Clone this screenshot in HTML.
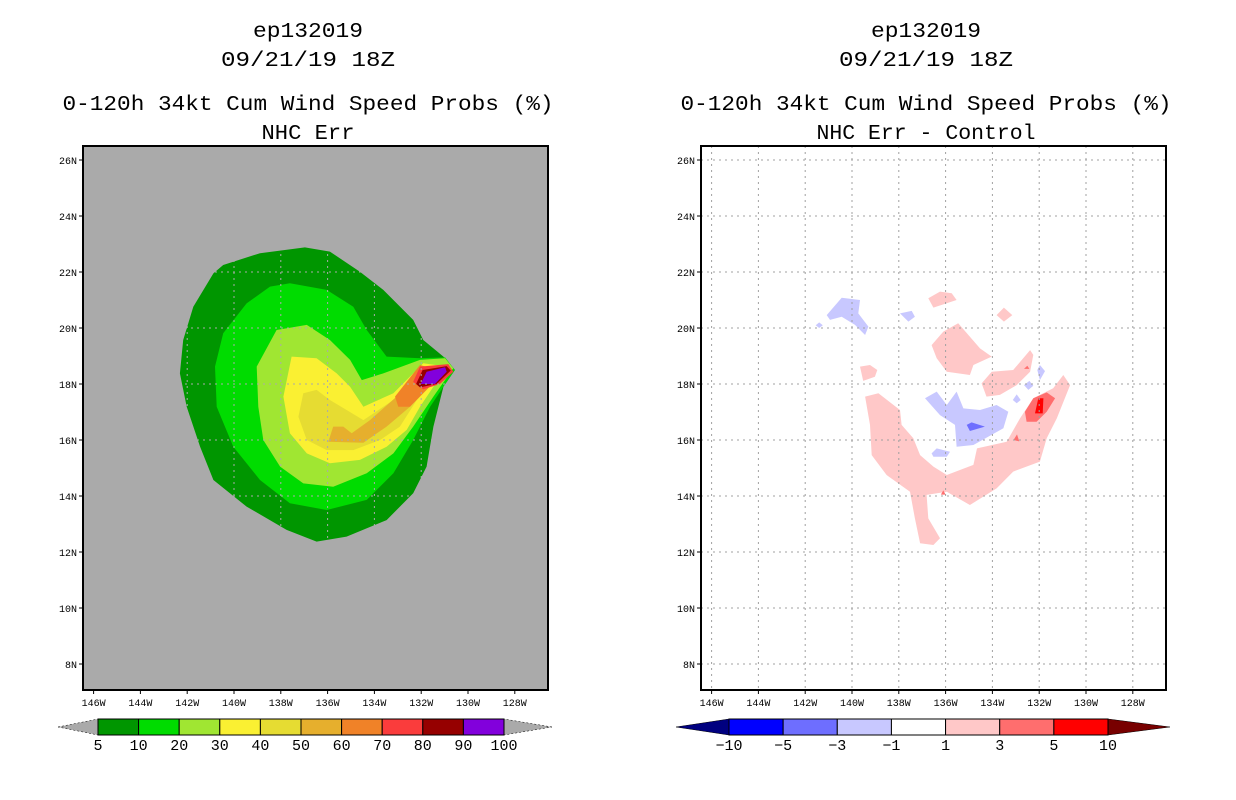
<!DOCTYPE html>
<html><head><meta charset="utf-8"><style>
html,body{margin:0;padding:0;background:#fff;}
svg{display:block;font-family:"Liberation Mono",monospace;}
</style></head><body>
<svg id="s" width="1236" height="800" viewBox="0 0 1236 800">
<g id="L"></g>
<g id="R"></g>
</svg>
<script>
const NS="http://www.w3.org/2000/svg";
const latTicks=[26,24,22,20,18,16,14,12,10,8];
const lonTicks=[146,144,142,140,138,136,134,132,130,128];
const probLevels=["5","10","20","30","40","50","60","70","80","90","100"];
const probColors=["#009600","#00dc00","#a0e632","#faf032","#e6dc32","#e6af2d","#f08228","#fa3c3c","#960000","#8200dc"];
const diffLevels=["-10","-5","-3","-1","1","3","5","10"];
const diffColors=["#0000ff","#6e6eff","#c8c8ff","#ffffff","#ffc8c8","#ff6e6e","#ff0000"];
const p5=[[140.46,22.25],[138.89,22.67],[136.97,22.88],[135.9,22.73],[134.62,22.01],[133.62,21.36],[132.34,20.29],[131.91,19.57],[131.05,18.98],[130.56,18.5],[131.05,17.9],[131.48,16.48],[131.77,15.05],[132.34,14.1],[133.48,13.14],[135.19,12.55],[136.47,12.37],[137.75,12.79],[139.46,13.62],[140.88,14.57],[141.45,15.76],[142.02,17.19],[142.31,18.38],[142.17,19.57],[141.74,20.76],[140.88,21.95]];
const p10=[[139.46,20.88],[138.46,21.48],[137.61,21.6],[136.04,21.36],[134.9,20.76],[134.33,19.93],[133.48,18.98],[132.05,18.92],[130.98,18.95],[130.56,18.5],[131.05,17.9],[131.62,17.19],[132.34,16.0],[133.19,14.81],[134.33,13.86],[136.04,13.5],[137.61,13.74],[138.89,14.57],[140.03,15.76],[140.74,17.19],[140.81,18.62],[140.46,19.81]];
const p20=[[139.03,18.62],[138.18,19.93],[136.89,20.11],[135.9,19.57],[135.04,18.86],[134.54,18.14],[133.62,18.38],[132.05,18.86],[130.98,18.92],[130.63,18.56],[131.48,17.55],[132.34,16.48],[133.19,15.52],[134.33,14.81],[135.76,14.33],[137.04,14.45],[138.03,15.05],[138.75,16.0],[138.96,17.19]];
const p30=[[137.54,18.98],[136.47,18.92],[135.61,18.38],[135.04,17.9],[134.47,17.19],[133.19,17.67],[132.34,18.38],[131.91,18.74],[130.91,18.62],[131.48,17.9],[132.05,17.19],[132.62,16.36],[133.48,15.76],[134.62,15.29],[135.9,15.17],[136.89,15.52],[137.61,16.24],[137.89,17.55]];
const p40=[[137.04,17.67],[136.47,17.79],[135.9,17.43],[135.19,17.07],[134.47,16.71],[133.19,17.43],[132.05,18.14],[131.48,18.14],[132.19,17.43],[132.91,16.48],[133.76,16.0],[134.9,15.64],[136.04,15.64],[136.89,16.0],[137.25,16.83]];
const p50=[[135.97,15.94],[135.76,16.48],[135.33,16.48],[134.97,16.24],[134.19,16.71],[133.05,17.55],[132.05,18.38],[131.34,18.38],[132.48,17.19],[133.48,16.48],[134.47,15.9]];
const p60=[[133.12,17.55],[132.98,17.19],[132.48,17.19],[131.7,17.85],[131.05,18.44],[132.05,18.68],[132.62,18.08]];
const p70=[[132.34,18.08],[132.05,18.62],[130.84,18.71],[130.63,18.44],[131.2,18.0],[131.91,17.81]];
const p80=[[132.22,18.0],[131.94,18.5],[130.91,18.64],[130.74,18.48],[131.34,18.0],[132.05,17.88]];
const p90=[[132.02,18.0],[131.77,18.44],[130.98,18.6],[130.91,18.44],[131.41,18.0]];
const probShapes=[[p5,0],[p10,1],[p20,2],[p30,3],[p40,4],[p50,5],[p60,6],[p70,7],[p80,8],[p90,9]];
const dPinkMain=[[139.44,17.55],[138.87,17.67],[137.95,17.07],[137.88,16.54],[137.38,16.06],[137.09,15.46],[136.52,15.05],[135.95,14.75],[134.81,15.11],[134.66,15.7],[133.39,15.94],[132.82,16.77],[132.25,17.49],[131.4,17.85],[130.97,18.32],[130.68,17.96],[131.25,16.77],[131.68,16.06],[131.97,15.23],[133.11,14.87],[133.82,14.27],[134.96,13.68],[135.95,14.15],[136.81,14.04],[136.74,13.2],[136.24,12.49],[136.52,12.25],[137.09,12.31],[137.31,13.2],[137.52,14.15],[138.52,14.75],[139.16,15.46],[139.23,16.54]];
const dPinkTop=[[136.6,19.39],[136.1,19.87],[135.46,20.17],[134.53,19.27],[134.03,18.98],[134.81,18.68],[134.96,18.32],[135.95,18.44],[136.38,18.92]];
const dPinkRight=[[134.46,18.02],[134.03,18.44],[133.11,18.5],[132.39,19.21],[132.25,19.04],[132.39,18.44],[132.96,17.96],[133.68,17.61],[134.25,17.55]];
const dPinkSmall1=[[136.74,21.06],[136.24,21.3],[135.74,21.24],[135.53,21.0],[136.52,20.73]];
const dPinkSmall2=[[133.82,20.46],[133.51,20.73],[133.15,20.46],[133.51,20.23]];
const dPinkSmall3=[[139.66,18.62],[139.23,18.68],[138.92,18.5],[139.02,18.26],[139.52,18.11]];
const dBlueCenter=[[136.88,17.49],[136.38,17.73],[135.95,17.25],[135.53,17.73],[135.24,17.13],[134.53,17.07],[133.82,17.25],[133.32,17.01],[133.53,16.42],[134.81,15.82],[135.53,15.76],[135.6,16.54],[136.24,16.89]];
const dBlueTL=[[141.08,20.46],[140.44,21.08],[139.66,21.0],[139.73,20.52],[139.3,20.05],[139.44,19.75],[139.87,20.11],[140.44,20.4],[140.94,20.29]];
const dBlueS1=[[137.95,20.52],[137.45,20.61],[137.31,20.4],[137.59,20.23]];
const dBlueS2=[[136.6,15.52],[136.38,15.7],[135.81,15.58],[135.95,15.4],[136.52,15.4]];
const dBlueS3=[[132.08,18.5],[131.97,18.68],[131.75,18.46],[131.97,18.14]];
const dBlueS4=[[132.65,17.96],[132.42,18.11],[132.25,17.94],[132.46,17.79]];
const dBlueS5=[[133.13,17.43],[132.96,17.63],[132.79,17.43],[132.96,17.31]];
const dBlueS6=[[141.55,20.1],[141.4,20.2],[141.25,20.1],[141.4,20.0]];
const dMidBlue=[[135.1,16.54],[134.89,16.63],[134.32,16.48],[134.96,16.32]];
const dMidRed=[[132.61,17.01],[132.25,17.49],[131.68,17.7],[131.32,17.49],[131.68,17.01],[132.11,16.65],[132.54,16.65]];
const dRed=[[132.18,16.95],[132.04,17.49],[131.82,17.49],[131.85,16.95]];
const dMidRedS1=[[132.65,18.54],[132.51,18.65],[132.42,18.54]];
const dMidRedS2=[[133.1,16.0],[132.95,16.2],[132.85,15.95]];
const dMidRedS3=[[136.2,14.05],[136.1,14.2],[136.0,14.05]];
const diffShapes=[[dPinkMain,4],[dPinkTop,4],[dPinkRight,4],[dPinkSmall1,4],[dPinkSmall2,4],[dPinkSmall3,4],[dBlueCenter,2],[dBlueTL,2],[dBlueS1,2],[dBlueS2,2],[dBlueS3,2],[dBlueS4,2],[dBlueS5,2],[dBlueS6,2],[dMidBlue,1],[dMidRed,5],[dRed,6],[dMidRedS1,5],[dMidRedS2,5],[dMidRedS3,5]];

function el(tag,attrs,parent){const e=document.createElementNS(NS,tag);for(const k in attrs)e.setAttribute(k,attrs[k]);parent.appendChild(e);return e;}
function txt(parent,x,y,s,size,anchor,len){const t=el("text",{x:x,y:y,"font-size":size,"text-anchor":anchor||"middle",fill:"#000"},parent);if(len){t.setAttribute("textLength",len);t.setAttribute("lengthAdjust","spacingAndGlyphs");}t.textContent=s;return t;}

function panel(g,x0,bg,titles,shapes,colors,levels,cb){
  const left=x0, right=x0+465, top=146, bottom=690;
  const xOf=lon=>left+151+(140-lon)*23.4;
  const yOf=lat=>384-(lat-18)*28;
  const ys=[37,66,110,139];
  titles.forEach((s,i)=>{const t=txt(g,left+225,ys[i],s[0],21,"middle",s[1]);
    
    });
  const r=el("rect",{x:left,y:top,width:465,height:544,fill:bg},g);
  
  
  shapes.forEach(([poly,ci])=>{
    const p=el("polygon",{points:poly.map(q=>xOf(q[0]).toFixed(1)+","+yOf(q[1]).toFixed(1)).join(" "),fill:colors[ci]},g);
    
    
  });
  const gc=bg=="#ffffff"?"#a0a0a0":"#aaaaaa";
  lonTicks.forEach(L=>{const x=xOf(L);
    el("line",{x1:x,y1:top,x2:x,y2:bottom,stroke:gc,"stroke-width":1,"stroke-dasharray":"2,4"},g);
    el("line",{x1:x,y1:bottom,x2:x,y2:bottom+4,stroke:"#000"},g);
    const t=txt(g,x,bottom+16,L+"W",10,"middle");
    
    });
  latTicks.forEach(a=>{const y=yOf(a);
    el("line",{x1:left,y1:y,x2:right,y2:y,stroke:gc,"stroke-width":1,"stroke-dasharray":"2,4"},g);
    el("line",{x1:left-4,y1:y,x2:left,y2:y,stroke:"#000"},g);
    const t=txt(g,left-6,y+4,a+"N",10,"end");
    
    });
  const f=el("rect",{x:left,y:top,width:465,height:544,fill:"none",stroke:"#000","stroke-width":2},g);
  
  
  const cg=el("g",{},g);
  
  
  const n=colors.length, bw=(cb.x1-cb.x0)/n, yt=719, yb=735;
  el("polygon",{points:`${cb.tl},727 ${cb.x0},${yt} ${cb.x0},${yb}`,fill:cb.lc,stroke:"#000","stroke-width":0.5,"stroke-dasharray":cb.dash?"2,2":""},cg);
  el("polygon",{points:`${cb.tr},727 ${cb.x1},${yt} ${cb.x1},${yb}`,fill:cb.rc,stroke:"#000","stroke-width":0.5,"stroke-dasharray":cb.dash?"2,2":""},cg);
  colors.forEach((c,i)=>{const b=el("rect",{x:cb.x0+i*bw,y:yt,width:bw,height:yb-yt,fill:c,stroke:"#000","stroke-width":1},cg);
    
    });
  cb.labels.forEach((s,i)=>{const t=txt(cg,cb.x0+i*bw,750,s,15,"middle");
    
    });
}
panel(document.getElementById("L"),83,"#aaaaaa",
  [["ep132019",110],["09/21/19 18Z",174],["0-120h 34kt Cum Wind Speed Probs (%)",491],["NHC Err",93]],
  probShapes,probColors,probLevels.slice(1),
  {x0:98,x1:504,tl:58,tr:552,lc:"#aaaaaa",rc:"#aaaaaa",dash:true,labels:probLevels});
panel(document.getElementById("R"),701,"#ffffff",
  [["ep132019",110],["09/21/19 18Z",174],["0-120h 34kt Cum Wind Speed Probs (%)",491],["NHC Err - Control",219]],
  diffShapes,diffColors,diffLevels.slice(1),
  {x0:729,x1:1108,tl:676,tr:1170,lc:"#000080",rc:"#780000",dash:false,labels:diffLevels.map(s=>s.replace("-","\u2212"))});
</script>
</body></html>
